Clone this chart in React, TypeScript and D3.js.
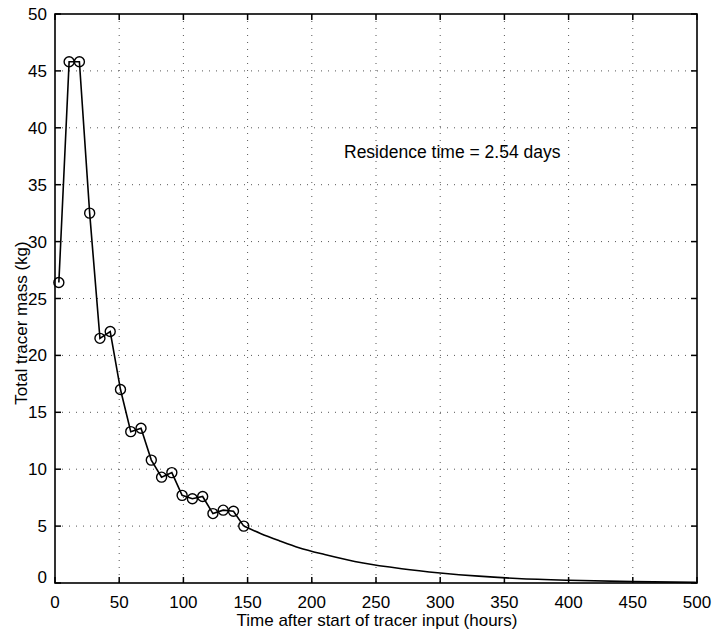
import React from "react";
import * as d3 from "d3";

const hours = [3, 11, 19, 27, 35, 43, 51, 59, 67, 75, 83, 91, 99, 107, 115, 123, 131, 139, 147];
const mass = [26.4, 45.8, 45.8, 32.5, 21.5, 22.1, 17.0, 13.3, 13.6, 10.8, 9.3, 9.7, 7.7, 7.4, 7.6, 6.1, 6.4, 6.3, 5.0];
const tailHours = [147, 160, 175, 190, 210, 240, 270, 300, 330, 360, 400, 450, 500];
const tailMass = [5.0, 4.35, 3.7, 3.1, 2.5, 1.75, 1.25, 0.88, 0.6, 0.4, 0.24, 0.12, 0.05];
const xTicks = [0, 50, 100, 150, 200, 250, 300, 350, 400, 450, 500];
const yTicks = [0, 5, 10, 15, 20, 25, 30, 35, 40, 45, 50];
const annotation = "Residence time = 2.54 days";
const xTitle = "Time after start of tracer input (hours)";
const yTitle = "Total tracer mass (kg)";

export default function App() {
  const W = 712, H = 636;
  const L = 55, R = 697, T = 14, B = 583;
  const x = d3.scaleLinear().domain([0, 500]).range([L, R]);
  const y = d3.scaleLinear().domain([0, 50]).range([B, T]);
  const font = "'Liberation Sans', Arial, Helvetica, sans-serif";

  const obs = hours.map((h, i) => [h, mass[i]] as [number, number]);
  const tail = tailHours.map((h, i) => [h, tailMass[i]] as [number, number]);
  const lineObs = d3.line<[number, number]>().x(d => x(d[0])).y(d => y(d[1]));
  const lineTail = d3.line<[number, number]>().x(d => x(d[0])).y(d => y(d[1])).curve(d3.curveMonotoneX);

  const tl = 6;
  return (
    <svg width={W} height={H} style={{ position: "absolute", left: 0, top: 0, background: "#fff" }}>
      <rect x={0} y={0} width={W} height={H} fill="#fff" />
      {/* grid */}
      <g stroke="#555" strokeWidth={1} strokeDasharray="1,6">
        {xTicks.slice(1, -1).map(t => (
          <line key={"gx" + t} x1={x(t)} x2={x(t)} y1={T} y2={B} />
        ))}
        {yTicks.slice(1, -1).map(t => (
          <line key={"gy" + t} x1={L} x2={R} y1={y(t)} y2={y(t)} />
        ))}
      </g>
      {/* ticks */}
      <g stroke="#000" strokeWidth={1.5}>
        {xTicks.map(t => (
          <g key={"tx" + t}>
            <line x1={x(t)} x2={x(t)} y1={B} y2={B - tl} />
            <line x1={x(t)} x2={x(t)} y1={T} y2={T + tl} />
          </g>
        ))}
        {yTicks.map(t => (
          <g key={"ty" + t}>
            <line x1={L} x2={L + tl} y1={y(t)} y2={y(t)} />
            <line x1={R} x2={R - tl} y1={y(t)} y2={y(t)} />
          </g>
        ))}
      </g>
      {/* box */}
      <rect x={L} y={T} width={R - L} height={B - T} fill="none" stroke="#000" strokeWidth={1.6} />
      {/* tick labels */}
      <g fontFamily={font} fontSize={17} fill="#000">
        {xTicks.map(t => (
          <text key={"lx" + t} x={x(t)} y={B + 25} textAnchor="middle">{t}</text>
        ))}
        {yTicks.map(t => (
          <text key={"ly" + t} x={L - 8} y={y(t) + 6 - (t === 0 ? 6 : 0)} textAnchor="end">{t}</text>
        ))}
      </g>
      {/* titles */}
      <text x={(L + R) / 2 + 1} y={626} textAnchor="middle" fontFamily={font} fontSize={17}>{xTitle}</text>
      <text transform={`translate(27, ${323}) rotate(-90)`} textAnchor="middle" fontFamily={font} fontSize={17}>{yTitle}</text>
      <text x={344} y={158} fontFamily={font} fontSize={17.5}>{annotation}</text>
      {/* data */}
      <path d={lineTail(tail) || ""} fill="none" stroke="#000" strokeWidth={1.6} />
      <path d={lineObs(obs) || ""} fill="none" stroke="#000" strokeWidth={1.6} />
      <g fill="none" stroke="#000" strokeWidth={1.4}>
        {obs.map((d, i) => (
          <circle key={"c" + i} cx={x(d[0])} cy={y(d[1])} r={5} />
        ))}
      </g>
    </svg>
  );
}
